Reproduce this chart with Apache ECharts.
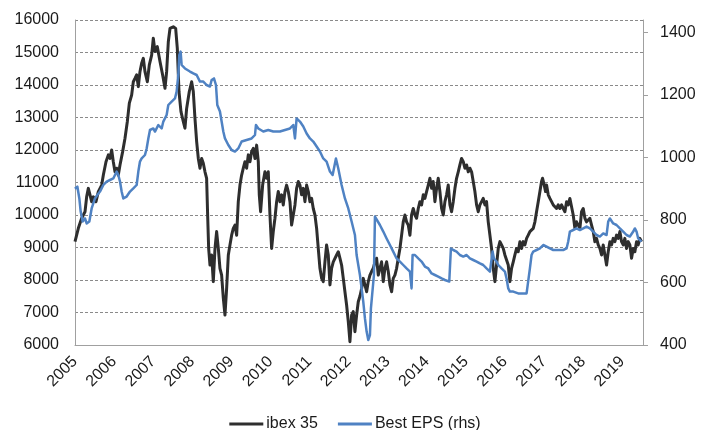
<!DOCTYPE html>
<html>
<head>
<meta charset="utf-8">
<script src="https://cdn.jsdelivr.net/npm/echarts@6/dist/echarts.min.js"></script>
<style>html,body{margin:0;padding:0;background:#fff;}#c{width:710px;height:430px;}</style>
</head>
<body>
<div id="c"></div>
<script>
var yearTicks = [2005,2006,2007,2008,2009,2010,2011,2012,2013,2014,2015,2016,2017,2018,2019];
var leftTicks = [6000,7000,8000,9000,10000,11000,12000,13000,14000,15000,16000];
var rightTicks = [400,600,800,1000,1200,1400];
var seriesNames = ['ibex 35','Best EPS (rhs)'];

var ibex = [
[2005.000,9180],[2005.085,9590],[2005.170,9900],[2005.256,10100],[2005.298,10560],[2005.341,10820],[2005.384,10620],[2005.426,10410],[2005.469,10560],[2005.537,10410],[2005.597,10720],[2005.682,10920],[2005.725,11230],[2005.793,11640],[2005.853,11850],[2005.895,11740],[2005.938,12000],[2005.980,11640],[2006.023,11330],[2006.066,11440],[2006.108,11230],[2006.151,11540],[2006.219,11950],[2006.279,12360],[2006.338,12870],[2006.390,13440],[2006.449,13690],[2006.492,14100],[2006.534,14200],[2006.577,14310],[2006.620,13950],[2006.662,14410],[2006.705,14670],[2006.748,14820],[2006.790,14410],[2006.850,14100],[2006.901,14620],[2006.961,14920],[2007.003,15440],[2007.046,15030],[2007.106,15180],[2007.174,14720],[2007.242,14310],[2007.302,13900],[2007.344,14410],[2007.387,15330],[2007.430,15740],[2007.515,15790],[2007.575,15740],[2007.617,15130],[2007.660,13800],[2007.711,13180],[2007.771,12870],[2007.813,12670],[2007.856,13280],[2007.924,13800],[2007.984,14100],[2008.026,13800],[2008.069,12970],[2008.112,12260],[2008.154,11740],[2008.197,11440],[2008.240,11740],[2008.282,11590],[2008.325,11330],[2008.367,11130],[2008.393,10000],[2008.419,8970],
[2008.453,8460],[2008.495,8770],[2008.538,7950],[2008.581,8970],[2008.623,9490],[2008.666,8970],[2008.708,8360],[2008.751,8150],[2008.794,7440],[2008.836,6920],[2008.879,7740],[2008.922,8770],[2008.964,9080],[2009.007,9380],[2009.049,9590],[2009.092,9690],[2009.135,9380],[2009.177,10410],[2009.220,10920],[2009.263,11230],[2009.305,11440],[2009.348,11640],[2009.390,11440],[2009.433,11850],[2009.476,11640],[2009.518,11950],[2009.561,12050],[2009.604,11740],[2009.646,12150],[2009.689,11640],[2009.714,10620],[2009.748,10100],[2009.800,10920],[2009.859,11330],[2009.902,11130],[2009.944,11330],[2009.987,10000],[2010.030,8970],[2010.072,9490],[2010.115,9900],[2010.158,10410],[2010.200,10720],[2010.243,10410],[2010.286,10620],[2010.328,10310],[2010.371,10720],[2010.413,10920],[2010.456,10720],[2010.499,10410],[2010.541,9690],[2010.584,10000],[2010.627,10310],[2010.669,10820],[2010.712,11030],[2010.754,10920],[2010.797,10620],[2010.840,10820],[2010.882,10410],[2010.925,10920],[2010.968,10720],[2011.010,10410],[2011.053,10510],[2011.095,10200],[2011.138,10000],[2011.181,9590],[2011.223,8970],[2011.266,8360],[2011.309,8050],[2011.351,7950],[2011.394,8560],[2011.436,9080],[2011.479,8770],[2011.522,7850],[2011.564,8360],[2011.607,8560],[2011.650,8560],[2011.692,8770],[2011.735,8870],[2011.777,8670],[2011.820,8460],[2011.863,8050],[2011.905,7640],[2011.948,7230],[2011.991,6720],[2012.033,6100],[2012.076,6920],[2012.118,7030],[2012.161,6410],[2012.204,6920],[2012.246,7330],
[2012.289,7500],[2012.332,7740],[2012.374,8050],[2012.417,7850],[2012.460,7640],[2012.502,7950],[2012.545,8150],[2012.587,8260],[2012.630,8360],[2012.673,8560],[2012.715,8670],[2012.758,8150],[2012.800,8360],[2012.843,8560],[2012.886,7950],[2012.928,8360],[2012.971,8560],[2013.014,8260],[2013.056,7850],[2013.099,7640],[2013.141,8050],[2013.184,8150],[2013.227,8360],[2013.269,8670],[2013.312,8970],[2013.355,9380],[2013.397,9790],[2013.440,10000],[2013.482,9790],[2013.525,9690],[2013.568,9380],[2013.610,10000],[2013.653,10200],[2013.696,10000],[2013.738,9900],[2013.781,10200],[2013.823,10410],[2013.866,10310],[2013.909,10620],[2013.951,10510],[2013.994,10720],[2014.037,10920],[2014.079,11130],[2014.122,10820],[2014.164,11030],[2014.207,10410],[2014.250,10820],[2014.292,11130],[2014.335,10720],[2014.378,10200],[2014.420,10000],[2014.463,10410],[2014.505,10620],[2014.548,10920],[2014.591,10310],[2014.633,10100],[2014.676,10410],[2014.719,10820],[2014.761,11130],[2014.804,11330],[2014.846,11540],[2014.889,11740],[2014.932,11640],[2014.974,11440],[2015.017,11540],[2015.060,11330],[2015.102,11440],[2015.145,11330],[2015.187,11030],[2015.230,10720],[2015.273,10310],[2015.315,10100],[2015.358,10310],[2015.401,10410],[2015.443,10510],[2015.486,10310],[2015.528,10410],[2015.571,9790],[2015.614,9380],[2015.656,8970],[2015.699,8360],[2015.742,7950],[2015.784,8460],[2015.827,8970],
[2015.870,9180],[2015.912,9080],[2015.955,8970],[2015.997,8770],[2016.040,8770],[2016.083,8460],[2016.125,7950],[2016.168,8360],[2016.211,8560],[2016.253,8770],[2016.296,8970],[2016.338,8870],[2016.381,9180],[2016.424,8970],[2016.466,9180],[2016.509,9080],[2016.552,9280],[2016.594,9380],[2016.637,9490],[2016.679,9490],[2016.722,9590],[2016.765,9790],[2016.807,10100],[2016.850,10410],[2016.893,10720],[2016.935,11030],[2016.961,11130],[2017.003,10920],[2017.038,10720],[2017.063,10920],[2017.106,10620],[2017.148,10510],[2017.191,10410],[2017.234,10310],[2017.276,10260],[2017.319,10200],[2017.361,10310],[2017.404,10200],[2017.447,10310],[2017.489,10200],[2017.532,10100],[2017.575,10410],[2017.617,10310],[2017.660,10510],[2017.703,10560],[2017.745,10000],[2017.788,9590],[2017.830,9790],[2017.873,9790],[2017.916,9590],[2017.958,10100],[2018.001,10200],[2018.044,9900],[2018.086,9790],[2018.129,9740],[2018.171,9900],[2018.214,9690],[2018.257,9490],[2018.299,9180],[2018.342,9280],[2018.385,9080],[2018.427,8970],[2018.470,8770],[2018.512,9080],[2018.555,8770],[2018.598,8460],[2018.640,8870],[2018.683,9180],[2018.726,9080],[2018.768,9280],[2018.811,9180],[2018.853,9380],[2018.896,9280],[2018.939,9490],[2018.981,9180],[2019.024,9080],[2019.066,9280],[2019.109,8970],[2019.152,9180],[2019.194,9080],[2019.237,8670],[2019.280,8970],[2019.322,8870],[2019.365,9180],[2019.407,9080],[2019.450,9280],[2019.493,9180]
];

var bestEps = [
[2005.000,900],[2005.060,907],[2005.111,869],[2005.145,827],[2005.196,795],[2005.256,805],[2005.298,789],[2005.367,795],[2005.426,837],[2005.469,837],[2005.511,869],[2005.571,880],[2005.639,891],[2005.725,912],[2005.810,923],[2005.895,928],[2005.980,933],[2006.066,955],[2006.108,944],[2006.151,923],[2006.193,891],[2006.236,869],[2006.321,875],[2006.407,891],[2006.492,901],[2006.577,912],[2006.620,955],[2006.662,987],[2006.705,997],[2006.790,1008],[2006.833,1029],[2006.876,1061],[2006.918,1088],[2007.003,1093],[2007.046,1083],[2007.131,1104],[2007.217,1093],[2007.259,1115],[2007.344,1136],[2007.387,1168],[2007.472,1179],[2007.557,1189],[2007.600,1211],[2007.643,1264],[2007.668,1328],[2007.702,1339],[2007.728,1296],[2007.813,1285],[2007.941,1275],[2008.026,1269],[2008.112,1264],[2008.197,1243],[2008.282,1243],[2008.367,1232],[2008.453,1227],
[2008.495,1248],[2008.555,1253],[2008.606,1232],[2008.640,1168],[2008.708,1147],[2008.751,1115],[2008.794,1083],[2008.836,1061],[2008.922,1040],[2009.007,1024],[2009.092,1019],[2009.177,1029],[2009.263,1051],[2009.390,1056],[2009.518,1061],[2009.604,1072],[2009.629,1104],[2009.689,1093],[2009.731,1088],[2009.817,1083],[2009.944,1088],[2010.072,1083],[2010.243,1083],[2010.371,1088],[2010.499,1093],[2010.584,1104],[2010.627,1061],[2010.669,1125],[2010.712,1131],[2010.754,1115],[2010.840,1099],[2010.925,1077],[2011.010,1061],[2011.095,1051],[2011.181,1035],[2011.266,1019],[2011.351,997],[2011.436,987],[2011.522,955],[2011.590,944],[2011.624,965],[2011.675,997],[2011.735,965],[2011.820,912],[2011.905,869],[2011.991,837],[2012.076,795],[2012.161,752],
[2012.204,688],[2012.289,624],[2012.332,581],[2012.374,539],[2012.417,485],[2012.460,443],[2012.502,416],[2012.545,432],[2012.570,517],[2012.613,517],[2012.647,624],[2012.673,811],[2012.715,805],[2012.800,784],[2012.886,763],[2012.971,741],[2013.056,720],[2013.141,699],[2013.227,677],[2013.312,667],[2013.397,656],[2013.482,645],[2013.568,635],[2013.610,581],[2013.636,688],[2013.696,688],[2013.781,677],[2013.866,667],[2013.951,651],[2014.037,645],[2014.122,629],[2014.207,624],[2014.292,619],[2014.378,613],[2014.463,608],[2014.574,603],[2014.616,709],[2014.676,704],[2014.761,699],[2014.846,688],[2014.932,683],[2015.017,688],[2015.102,677],[2015.187,672],[2015.273,667],[2015.358,661],[2015.443,656],[2015.528,645],[2015.614,635],[2015.682,699],[2015.716,677],[2015.784,667],
[2015.827,656],[2015.912,645],[2015.997,635],[2016.040,613],[2016.083,581],[2016.125,571],[2016.211,571],[2016.338,565],[2016.466,565],[2016.552,565],[2016.594,571],[2016.637,645],[2016.679,688],[2016.722,699],[2016.807,704],[2016.893,709],[2016.978,720],[2017.063,715],[2017.148,709],[2017.234,704],[2017.319,704],[2017.404,704],[2017.489,704],[2017.575,709],[2017.617,731],[2017.660,763],[2017.745,768],[2017.830,773],[2017.916,768],[2018.001,773],[2018.086,779],[2018.171,773],[2018.257,763],[2018.342,752],[2018.427,747],[2018.512,757],[2018.598,752],[2018.640,795],[2018.683,805],[2018.768,789],[2018.853,784],[2018.939,773],[2019.024,763],[2019.109,752],[2019.194,747],[2019.280,763],[2019.322,773],[2019.365,763],[2019.407,741],[2019.450,747],[2019.493,731]
];

var FONT = "'Liberation Sans', Arial, sans-serif";
var TXT = '#1a1a1a';
function plain(v) { return String(Math.round(v)); }
var chart = echarts.init(document.getElementById('c'), null, {renderer: 'canvas'});
chart.setOption({
  animation: false,
  backgroundColor: '#fff',
  textStyle: {fontFamily: FONT},
  grid: {left: 75, right: 67, top: 20, bottom: 85, containLabel: false, outerBoundsMode: 'none'},
  legend: {
    data: seriesNames,
    top: 411, left: 'center',
    icon: 'rect', itemWidth: 34, itemHeight: 3, itemGap: 20,
    textStyle: {fontFamily: FONT, fontSize: 16, color: TXT, padding: [0, 0, 0, -2]}
  },
  xAxis: {
    type: 'value', min: 2005, max: 2019.53, interval: 1,
    axisLine: {show: true, lineStyle: {color: '#a0a0a0', width: 1}},
    axisTick: {show: false},
    splitLine: {show: false},
    axisLabel: {
      customValues: yearTicks, rotate: 45, margin: 14,
      fontFamily: FONT, fontSize: 16, color: TXT,
      formatter: plain
    }
  },
  yAxis: [{
    type: 'value', min: 6000, max: 16000, interval: 1000, position: 'left',
    axisLine: {show: true, lineStyle: {color: '#a0a0a0', width: 1}},
    axisTick: {show: false},
    splitLine: {show: true, lineStyle: {color: '#8a8a8a', width: 1, type: [3, 2]}},
    axisLabel: {customValues: leftTicks, margin: 16, fontFamily: FONT, fontSize: 16, color: TXT, formatter: plain}
  }, {
    type: 'value', min: 400, max: 1440, interval: 200, position: 'right',
    axisLine: {show: true, lineStyle: {color: '#a0a0a0', width: 1}},
    axisTick: {show: true, customValues: rightTicks, length: 5, inside: false, lineStyle: {color: '#a0a0a0'}},
    splitLine: {show: false},
    axisLabel: {customValues: rightTicks, margin: 17, fontFamily: FONT, fontSize: 16, color: TXT, formatter: plain}
  }],
  series: [{
    name: seriesNames[0], type: 'line', yAxisIndex: 0, data: ibex,
    showSymbol: false, symbol: 'none', smooth: false,
    lineStyle: {color: '#2e2e2e', width: 3, join: 'round'},
    itemStyle: {color: '#2e2e2e'}, z: 2
  }, {
    name: seriesNames[1], type: 'line', yAxisIndex: 1, data: bestEps,
    showSymbol: false, symbol: 'none', smooth: false,
    lineStyle: {color: '#4f82c3', width: 2.5, join: 'round'},
    itemStyle: {color: '#4f82c3'}, z: 3
  }]
});
</script>
</body>
</html>
